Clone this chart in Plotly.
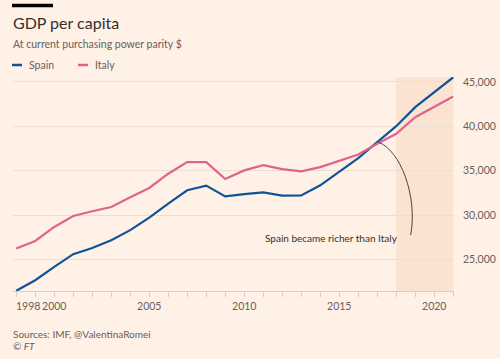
import plotly.graph_objects as go

years = list(range(1998, 2022))
spain = [21470, 22660, 24170, 25600, 26300, 27170, 28300, 29720, 31300, 32790,
         33320, 32110, 32350, 32560, 32190, 32220, 33350, 34840, 36420, 38210,
         40010, 42150, 43830, 45520]
italy = [26240, 27090, 28660, 29900, 30430, 30910, 32000, 33050, 34660, 35970,
         35970, 34060, 35030, 35630, 35180, 34920, 35400, 36080, 36830, 38030,
         39160, 41020, 42220, 43350]
x_tick_vals = [2000, 2005, 2010, 2015, 2020]
y_tick_vals = [25000, 30000, 35000, 40000, 45000]
y_tick_text = ["25,000", "30,000", "35,000", "40,000", "45,000"]

W, H = 500, 359
L, R, T, B = 13, 46, 77, 68
def px(x):
    return (x - L) / (W - L - R)
def py(y):
    return (H - B - y) / (H - T - B)

BG = "#FFF1E5"
BLUE = "#0F5499"
PINK = "#E0638D"
GREY = "#66605C"
FONT = "Lato"

fig = go.Figure()
fig.add_trace(go.Scatter(x=years, y=spain, mode="lines", name="Spain",
                         line=dict(color=BLUE, width=2.2), showlegend=False))
fig.add_trace(go.Scatter(x=years, y=italy, mode="lines", name="Italy",
                         line=dict(color=PINK, width=2.2), showlegend=False))

shapes = [
    dict(type="rect", xref="x", yref="paper", x0=2018, x1=2021, y0=0, y1=1,
         fillcolor="#FBE3D2", line=dict(width=0), layer="below"),
    dict(type="path", xref="x", yref="y",
         path="M 2017.07,38200 C 2018.19,37310 2019.14,32240 2018.76,27740",
         line=dict(color="#4A4541", width=1)),
    dict(type="line", xref="paper", yref="paper", x0=px(12), x1=px(53),
         y0=py(5.5), y1=py(5.5), line=dict(color="#000000", width=3.5)),
    dict(type="line", xref="paper", yref="paper", x0=px(12), x1=px(22),
         y0=py(65), y1=py(65), line=dict(color=BLUE, width=2.5)),
    dict(type="line", xref="paper", yref="paper", x0=px(78), x1=px(88),
         y0=py(65), y1=py(65), line=dict(color=PINK, width=2.5)),
]

annotations = [
    dict(text="GDP per capita", xref="paper", yref="paper", x=px(11), y=py(22.5),
         xanchor="left", yanchor="middle", showarrow=False,
         font=dict(family=FONT, size=16, color="#33302E")),
    dict(text="At current purchasing power parity $", xref="paper", yref="paper",
         x=px(11), y=py(44), xanchor="left", yanchor="middle", showarrow=False,
         font=dict(family=FONT, size=10.5, color=GREY)),
    dict(text="Spain", xref="paper", yref="paper", x=px(27), y=py(65),
         xanchor="left", yanchor="middle", showarrow=False,
         font=dict(family=FONT, size=10.5, color=GREY)),
    dict(text="Italy", xref="paper", yref="paper", x=px(93), y=py(65),
         xanchor="left", yanchor="middle", showarrow=False,
         font=dict(family=FONT, size=10.5, color=GREY)),
    dict(text="Spain became richer than Italy", xref="paper", yref="paper",
         x=px(400), y=py(238), xanchor="right", yanchor="middle", showarrow=False,
         font=dict(family=FONT, size=10, color="#33302E")),
    dict(text="1998", xref="paper", yref="paper", x=px(28), y=py(305.5),
         xanchor="center", yanchor="middle", showarrow=False,
         font=dict(family=FONT, size=10.5, color=GREY)),
    dict(text="Sources: IMF, @ValentinaRomei", xref="paper", yref="paper",
         x=px(11), y=py(334), xanchor="left", yanchor="middle", showarrow=False,
         font=dict(family=FONT, size=10, color=GREY)),
    dict(text="<i>© FT</i>", xref="paper", yref="paper",
         x=px(11), y=py(346), xanchor="left", yanchor="middle", showarrow=False,
         font=dict(family=FONT, size=10, color=GREY)),
]

fig.update_layout(
    width=W, height=H,
    margin=dict(l=L, r=R, t=T, b=B, autoexpand=False),
    paper_bgcolor=BG, plot_bgcolor=BG,
    shapes=shapes, annotations=annotations,
    showlegend=False,
    xaxis=dict(range=[1997.83, 2021.04], tickvals=x_tick_vals,
               ticktext=[str(v) for v in x_tick_vals], automargin=False,
               showgrid=False, zeroline=False,
               showline=True, linecolor="#D9CCC0", linewidth=1,
               ticks="outside", ticklen=5, tickcolor="#D9CCC0",
               minor=dict(tickvals=years, ticks="outside", ticklen=5, tickcolor="#D9CCC0"),
               tickfont=dict(family=FONT, size=10.5, color=GREY), fixedrange=True),
    yaxis=dict(range=[21450, 45550], side="right", tickvals=y_tick_vals,
               ticktext=y_tick_text, automargin=False,
               showgrid=True, gridcolor="#EADFD3", gridwidth=1,
               zeroline=False, showline=False, ticks="", ticklabelstandoff=8,
               tickfont=dict(family=FONT, size=10.5, color=GREY), fixedrange=True),
)

fig.write_html("out.html", config={"displayModeBar": False},
               post_script="document.body.style.margin='0';document.body.style.background='#FFF1E5';")
